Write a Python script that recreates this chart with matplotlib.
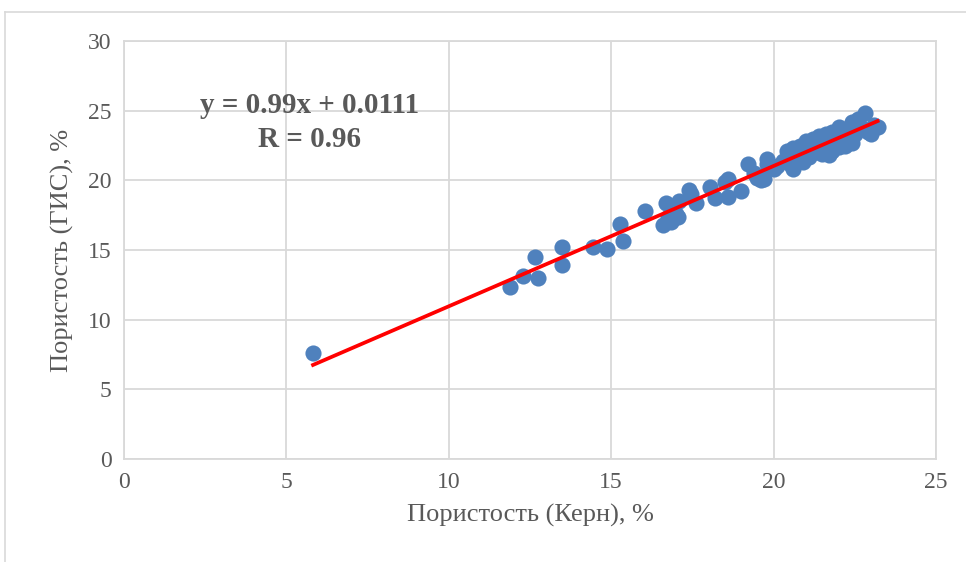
import numpy as np
import matplotlib.pyplot as plt
from matplotlib.lines import Line2D

# porosity from core (x) vs porosity from logs (y), %
kern = [5.82, 11.88, 12.28, 12.65, 12.75, 13.5, 13.5, 14.44, 14.87, 15.27, 15.36,
        16.04, 16.6, 16.7, 16.75, 16.85, 16.9, 17.0, 17.06, 17.1, 17.4, 17.45, 17.6,
        18.05, 18.2, 18.5, 18.6, 18.6, 19.0, 19.2, 19.4, 19.5, 19.6, 19.7, 19.8, 19.8,
        20.0, 20.1, 20.3, 20.4, 20.5, 20.6, 20.6, 20.7, 20.8, 20.9, 21.0, 21.0, 21.1,
        21.2, 21.2, 21.3, 21.4, 21.4, 21.5, 21.6, 21.6, 21.7, 21.7, 21.8, 21.8, 21.9,
        22.0, 22.0, 22.1, 22.2, 22.3, 22.4, 22.4, 22.5, 22.6, 22.7, 22.8, 22.9, 23.0,
        23.1, 23.2]
gis = [7.6, 12.35, 13.14, 14.5, 13.0, 15.2, 13.9, 15.2, 15.07, 16.87, 15.65,
       17.8, 16.8, 18.4, 17.4, 17.0, 17.2, 17.6, 17.4, 18.5, 19.3, 19.0, 18.4,
       19.5, 18.7, 19.9, 20.1, 18.8, 19.2, 21.2, 20.5, 20.2, 20.0, 20.1, 21.2, 21.5,
       20.8, 21.0, 21.4, 22.1, 21.2, 20.8, 22.3, 21.6, 22.5, 21.3, 22.0, 22.8, 21.7,
       22.3, 23.0, 22.0, 22.6, 23.2, 21.9, 22.5, 23.3, 21.8, 22.9, 23.5, 22.1, 22.7,
       23.8, 22.4, 23.1, 22.5, 23.6, 22.7, 24.2, 23.3, 24.4, 23.8, 24.8, 23.5, 23.3,
       24.0, 23.8]

# trend line as drawn in the picture
trend_slope = 1.007
trend_intercept = 0.89
trend_x = [5.82, 23.2]

eq_text = "y = 0.99x + 0.0111\nR = 0.96"

plt.rcParams['font.family'] = ['Liberation Serif', 'DejaVu Serif']
txt = '#595959'
grid_c = '#d9d9d9'

fig = plt.figure(figsize=(9.66, 5.62), dpi=100)
ax = fig.add_axes([124/966, 1 - 459/562, (936-124)/966, (459-41)/562])

ax.scatter(kern, gis, s=135, color='#4f81bd', zorder=3, linewidths=0)
tx = np.array(trend_x)
ax.plot(tx, trend_slope*tx + trend_intercept, color='#ff0000', lw=2.7, zorder=4)

ax.set_xlim(0, 25)
ax.set_ylim(0, 30)
ax.set_xticks(range(0, 26, 5))
ax.set_yticks(range(0, 31, 5))
ax.grid(True, color=grid_c, lw=1.3)
ax.set_axisbelow(True)
for s in ax.spines.values():
    s.set_color(grid_c)
    s.set_linewidth(1.3)
ax.tick_params(length=0, labelsize=17, colors=txt, pad=9)

ax.set_xlabel("Пористость (Керн), %", fontsize=19, color=txt, labelpad=8)
ax.set_ylabel("Пористость (ГИС), %", fontsize=19, color=txt, labelpad=10)

ax.text(0.229, 0.805, eq_text, transform=ax.transAxes, ha='center', va='center',
        fontsize=21, fontweight='bold', color=txt, linespacing=1.35)

# outer chart frame
fig.add_artist(Line2D([4.5/966, 4.5/966], [0, 1 - 12/562], transform=fig.transFigure,
                      color=grid_c, lw=1.2))
fig.add_artist(Line2D([4.5/966, 1], [1 - 12/562, 1 - 12/562], transform=fig.transFigure,
                      color=grid_c, lw=1.2))

plt.savefig("out.png", dpi=100)
